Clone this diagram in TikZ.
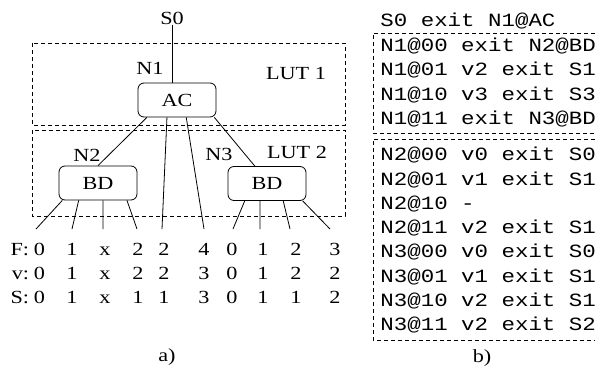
\documentclass[tikz,border=0pt]{standalone}
\usepackage{fontspec}
\setmainfont{Liberation Serif}[FakeStretch=1.2]
\newfontfamily\serfont{Liberation Serif}[FakeStretch=1.2]
\newfontfamily\codefont{Liberation Mono}[FakeStretch=1.2]
\usepackage{tikz}
\usetikzlibrary{shapes,arrows}

\begin{document}
\begin{tikzpicture}[x=1pt,y=-1pt,line width=0.8pt]
\tikzstyle{txt}=[font=\serfont\fontsize{18.5}{22}\selectfont,inner sep=0pt];
\tikzstyle{lut}=[dash pattern=on 4pt off 3pt];
\tikzstyle{blk}=[txt,draw,rounded corners=6pt,minimum width=78pt,minimum height=34pt];
\tikzstyle{cell}=[txt,anchor=base];
\tikzstyle{code}=[font=\codefont\fontsize{18.7}{22}\selectfont,inner sep=0pt,anchor=base west];

\useasboundingbox (0,0) rectangle (595,369);

% left: decision tree
\draw[lut] (32,43) rectangle (345,125);
\draw[lut] (32,130) rectangle (345,216);
\node[txt] (l1) at (296,73) {LUT 1};
\node[txt] (l2) at (297,152) {LUT 2};

\node[txt] (s0) at (172,18) {S0};
\node[blk] (ac) at (177,100) {AC};
\node[blk] (bdl) at (98,183) {BD};
\node[blk] (bdr) at (267,183.5) {BD};
\node[txt] (n1) at (150,68) {N1};
\node[txt] (n2) at (87,155) {N2};
\node[txt] (n3) at (219,154) {N3};

\coordinate (k1) at (36,229);
\coordinate (k2) at (72,229);
\coordinate (k3) at (103,229);
\coordinate (k4) at (137,229);
\coordinate (k5) at (162,229);
\coordinate (k6) at (204,229);
\coordinate (k7) at (233,229);
\coordinate (k8) at (260,229);
\coordinate (k9) at (290,229);
\coordinate (k10) at (330,229);

\draw (s0) -- (s0 |- ac.north);
\draw (ac.-150) -- (bdl.north);
\draw (ac.-120) -- (k5);
\draw (ac.-62) -- (k6);
\draw (ac.-25) -- (bdr.125);
\draw (bdl.-154) -- (k1);
\draw (bdl.-138) -- (k2);
\draw (bdl.-74) -- (k3);
\draw (bdl.-31) -- (k4);
\draw (bdr.-142) -- (k7);
\draw (bdr.-112) -- (k8);
\draw (bdr.-47) -- (k9);
\draw (bdr.-26) -- (k10);

% leaf values
\node[cell,anchor=base east] (rf) at (29.5,255.5) {F:};
\node[cell,anchor=base east] (rv) at (29.5,279.5) {v:};
\node[cell,anchor=base east] (rs) at (29.5,303.5) {S:};
\foreach \x/\f/\v/\s [count=\i] in {39.5/0/0/0,72/1/1/1,105/x/x/x,138/2/2/1,164/2/2/1,204/4/3/3,232/0/0/0,263/1/1/1,296/2/2/1,335/3/2/2}{
  \node[cell] (f\i) at (\x,255.5) {\f};
  \node[cell] (v\i) at (\x,279.5) {\v};
  \node[cell] (s\i) at (\x,303.5) {\s};
}
\node[txt] (ca) at (167,357) {a)};

% right: code
\draw[lut] (595,33) -| (373,133) -- (595,133);
\draw[lut] (595,139) -| (373,340) -- (595,340);
\node[code] (t0) at (380,27) {S0 exit N1@AC};
\node[code] (t1) at (380,51.5) {N1@00 exit N2@BD};
\node[code] (t2) at (380,75.8) {N1@01 v2 exit S1};
\node[code] (t3) at (380,100.1) {N1@10 v3 exit S3};
\node[code] (t4) at (380,124.4) {N1@11 exit N3@BD};
\node[code] (t5) at (380,160.7) {N2@00 v0 exit S0};
\node[code] (t6) at (380,185) {N2@01 v1 exit S1};
\node[code] (t7) at (380,209.3) {N2@10 -};
\node[code] (t8) at (380,233.6) {N2@11 v2 exit S1};
\node[code] (t9) at (380,257.9) {N3@00 v0 exit S0};
\node[code] (t10) at (380,282.2) {N3@01 v1 exit S1};
\node[code] (t11) at (380,306.5) {N3@10 v2 exit S1};
\node[code] (t12) at (380,330.8) {N3@11 v2 exit S2};
\node[txt] (cb) at (482,358) {b)};
\end{tikzpicture}
\end{document}
